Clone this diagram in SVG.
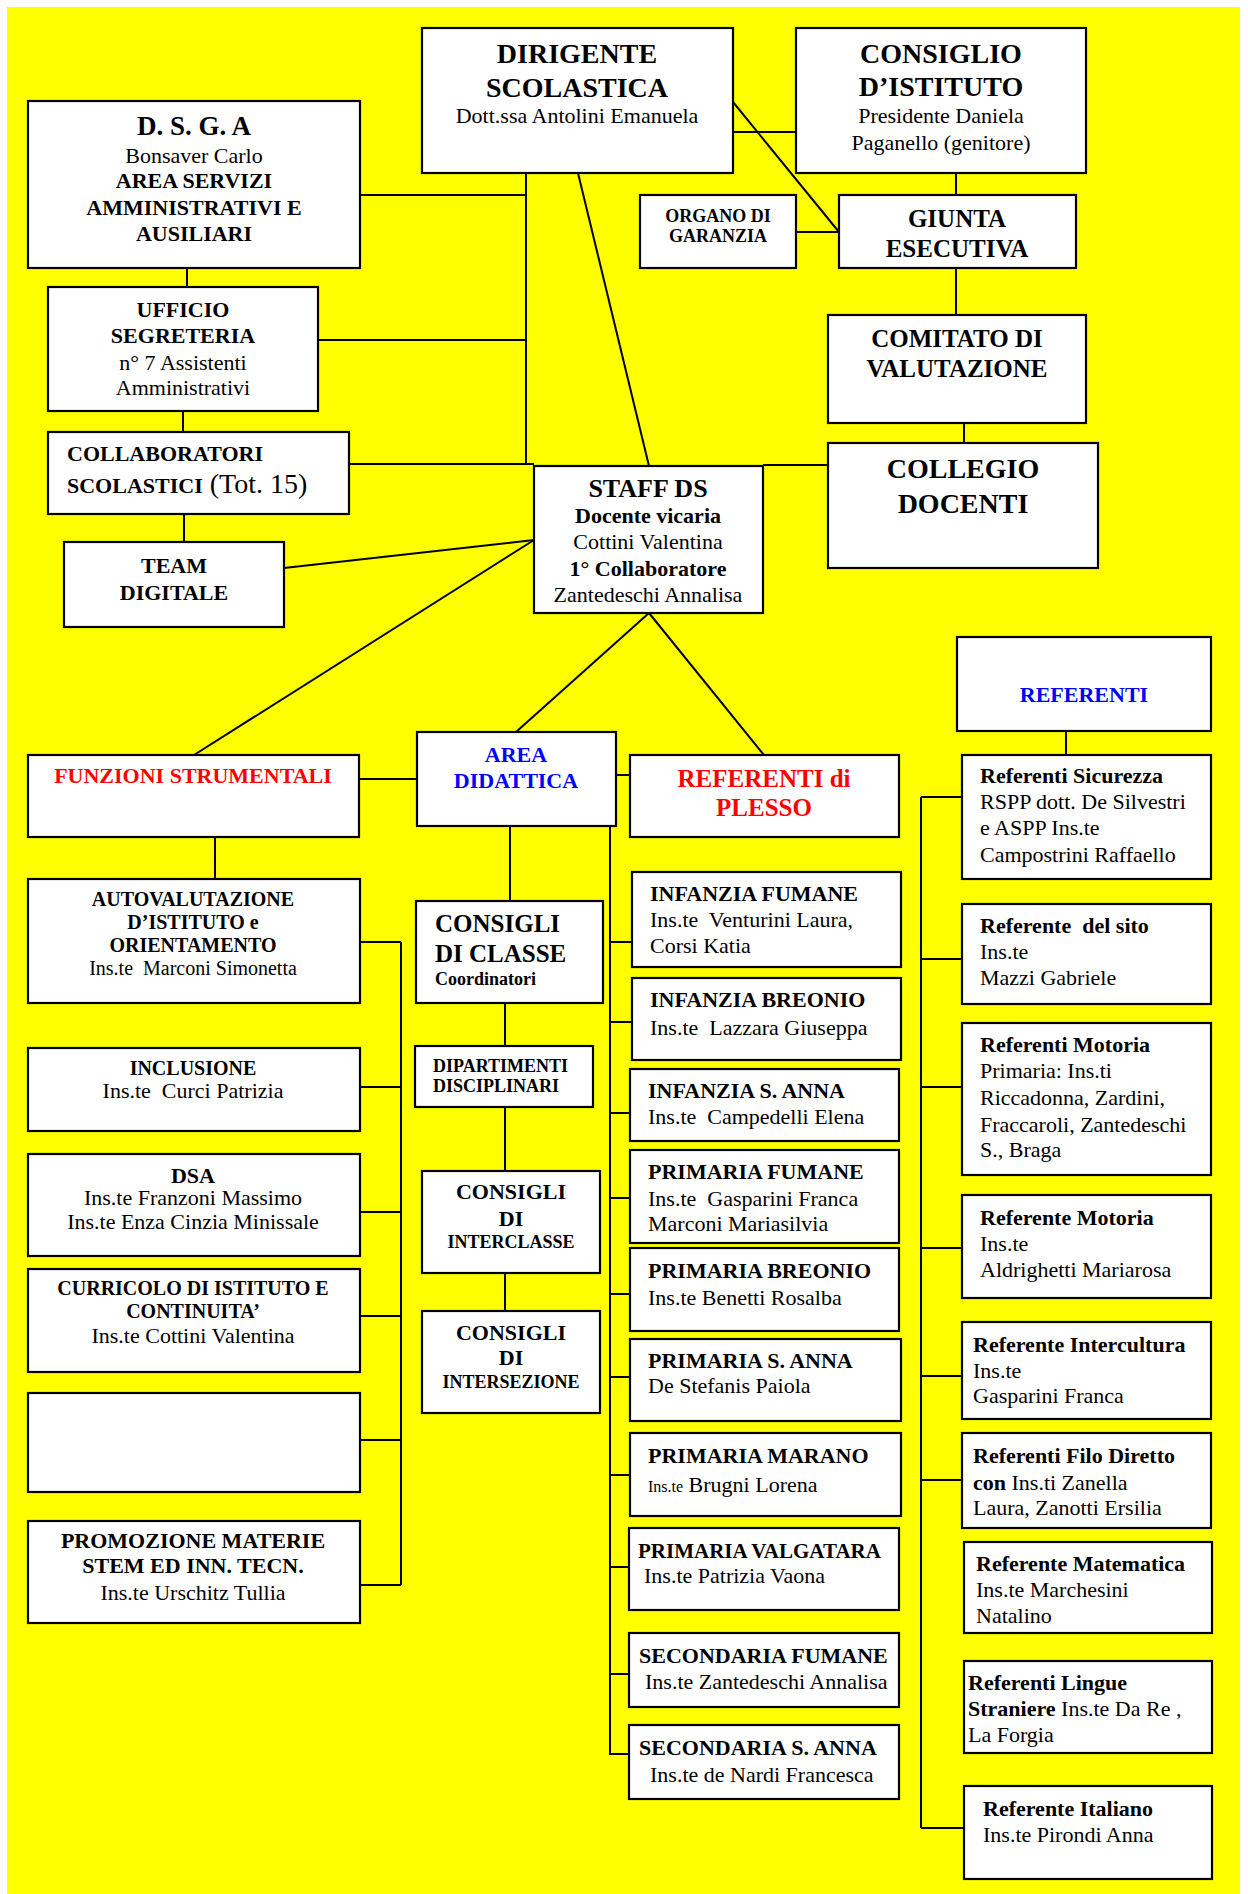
<svg xmlns="http://www.w3.org/2000/svg" width="1248" height="1894" viewBox="0 0 1248 1894">
<style>
.box{fill:#fff;stroke:#000;stroke-width:2.2}
.c{stroke:#000;stroke-width:2;fill:none}
text{font-family:"Liberation Serif","Times New Roman",serif;fill:#000;font-size:22px}
.m{text-anchor:middle}
.b{font-weight:bold}
.s28{font-size:28px}
.s27{font-size:27px}
.s26{font-size:26px}
.s25{font-size:25px}
.s20{font-size:20px}
.s18{font-size:18px}
.s16{font-size:16px}
.red{fill:#ff0000}
.blue{fill:#0000ff}
</style>
<rect x="0" y="0" width="1248" height="1894" fill="#fff"/>
<rect x="7" y="7" width="1233" height="1887" fill="#ffff00"/>

<g id="connectors">
<line class="c" x1="526" y1="173" x2="526" y2="464"/>
<line class="c" x1="360" y1="195" x2="526" y2="195"/>
<line class="c" x1="318" y1="340" x2="526" y2="340"/>
<line class="c" x1="349" y1="464" x2="534" y2="464"/>
<line class="c" x1="763" y1="465" x2="828" y2="465"/>
<line class="c" x1="578" y1="173" x2="649" y2="466"/>
<line class="c" x1="733" y1="132" x2="796" y2="132"/>
<line class="c" x1="733" y1="102" x2="839" y2="232"/>
<line class="c" x1="796" y1="232" x2="839" y2="232"/>
<line class="c" x1="956" y1="173" x2="956" y2="195"/>
<line class="c" x1="956" y1="268" x2="956" y2="315"/>
<line class="c" x1="964" y1="423" x2="964" y2="443"/>
<line class="c" x1="187" y1="268" x2="187" y2="287"/>
<line class="c" x1="183" y1="411" x2="183" y2="432"/>
<line class="c" x1="184" y1="514" x2="184" y2="542"/>
<line class="c" x1="284" y1="568" x2="534" y2="540"/>
<line class="c" x1="534" y1="540" x2="194" y2="755"/>
<line class="c" x1="649" y1="613" x2="516" y2="732"/>
<line class="c" x1="649" y1="613" x2="764" y2="755"/>
<line class="c" x1="359" y1="779" x2="417" y2="779"/>
<line class="c" x1="616" y1="775" x2="630" y2="775"/>
<line class="c" x1="1066" y1="731" x2="1066" y2="755"/>
<line class="c" x1="215" y1="837" x2="215" y2="879"/>
<path class="c" d="M401 942V1585M360 942H401M360 1087H401M360 1212H401M360 1316H401M360 1440H401M360 1585H401"/>
<line class="c" x1="510" y1="826" x2="510" y2="901"/>
<line class="c" x1="505" y1="1003" x2="505" y2="1046"/>
<line class="c" x1="505" y1="1107" x2="505" y2="1171"/>
<line class="c" x1="505" y1="1273" x2="505" y2="1311"/>
<path class="c" d="M610 826V1755M610 942H632M610 1022H632M610 1113H630M610 1198H630M610 1294H630M610 1377H630M610 1475H630M610 1567H629M610 1674H629M610 1754H629"/>
<path class="c" d="M921 797V1828M921 797H962M921 959H962M921 1087H962M921 1248H962M921 1376H962M921 1480H964M921 1828H964"/>
</g>

<g id="dirigente">
<rect class="box" x="422" y="28" width="311" height="145"/>
<text class="m b s28" x="577" y="63">DIRIGENTE</text>
<text class="m b s28" x="577" y="97">SCOLASTICA</text>
<text class="m" x="577" y="123">Dott.ssa Antolini Emanuela</text>
</g>
<g id="consiglio">
<rect class="box" x="796" y="28" width="290" height="145"/>
<text class="m b s28" x="941" y="63">CONSIGLIO</text>
<text class="m b s28" x="941" y="96">D’ISTITUTO</text>
<text class="m" x="941" y="123">Presidente Daniela</text>
<text class="m" x="941" y="150">Paganello (genitore)</text>
</g>
<g id="dsga">
<rect class="box" x="28" y="101" width="332" height="167"/>
<text class="m b s27" x="194" y="135">D. S. G. A</text>
<text class="m" x="194" y="163">Bonsaver Carlo</text>
<text class="m b" x="194" y="188">AREA SERVIZI</text>
<text class="m b" x="194" y="215">AMMINISTRATIVI E</text>
<text class="m b" x="194" y="241">AUSILIARI</text>
</g>
<g id="organo">
<rect class="box" x="640" y="195" width="156" height="73"/>
<text class="m b s18" x="718" y="222">ORGANO DI</text>
<text class="m b s18" x="718" y="242">GARANZIA</text>
</g>
<g id="giunta">
<rect class="box" x="839" y="195" width="237" height="73"/>
<text class="m b s25" x="957" y="227">GIUNTA</text>
<text class="m b s25" x="957" y="257">ESECUTIVA</text>
</g>
<g id="ufficio">
<rect class="box" x="48" y="287" width="270" height="124"/>
<text class="m b" x="183" y="317">UFFICIO</text>
<text class="m b" x="183" y="343">SEGRETERIA</text>
<text class="m" x="183" y="370">n° 7 Assistenti</text>
<text class="m" x="183" y="395">Amministrativi</text>
</g>
<g id="comitato">
<rect class="box" x="828" y="315" width="258" height="108"/>
<text class="m b s25" x="957" y="347">COMITATO DI</text>
<text class="m b s25" x="957" y="377">VALUTAZIONE</text>
</g>
<g id="collaboratori">
<rect class="box" x="48" y="432" width="301" height="82"/>
<text class="b" x="67" y="461">COLLABORATORI</text>
<text x="67" y="493"><tspan class="b">SCOLASTICI</tspan><tspan class="s28"> (Tot. 15)</tspan></text>
</g>
<g id="collegio">
<rect class="box" x="828" y="443" width="270" height="125"/>
<text class="m b s28" x="963" y="478">COLLEGIO</text>
<text class="m b s28" x="963" y="513">DOCENTI</text>
</g>
<g id="staff">
<rect class="box" x="534" y="466" width="229" height="147"/>
<text class="m b s26" x="648" y="497">STAFF DS</text>
<text class="m b" x="648" y="523">Docente vicaria</text>
<text class="m" x="648" y="549">Cottini Valentina</text>
<text class="m b" x="648" y="576">1° Collaboratore</text>
<text class="m" x="648" y="602">Zantedeschi Annalisa</text>
</g>
<g id="team">
<rect class="box" x="64" y="542" width="220" height="85"/>
<text class="m b" x="174" y="573">TEAM</text>
<text class="m b" x="174" y="600">DIGITALE</text>
</g>
<g id="referenti">
<rect class="box" x="957" y="637" width="254" height="94"/>
<text class="m b blue" x="1084" y="702">REFERENTI</text>
</g>
<g id="area-didattica">
<rect class="box" x="417" y="732" width="199" height="94"/>
<text class="m b blue" x="516" y="762">AREA</text>
<text class="m b blue" x="516" y="788">DIDATTICA</text>
</g>
<g id="funzioni">
<rect class="box" x="28" y="755" width="331" height="82"/>
<text class="m b red" x="193" y="783">FUNZIONI STRUMENTALI</text>
</g>
<g id="referenti-plesso">
<rect class="box" x="630" y="755" width="269" height="82"/>
<text class="m b red s25" x="764" y="787">REFERENTI di</text>
<text class="m b red s25" x="764" y="816">PLESSO</text>
</g>
<g id="ref-sicurezza">
<rect class="box" x="962" y="755" width="249" height="124"/>
<text class="b" x="980" y="783">Referenti Sicurezza</text>
<text x="980" y="809">RSPP dott. De Silvestri</text>
<text x="980" y="835">e ASPP Ins.te</text>
<text x="980" y="862">Campostrini Raffaello</text>
</g>
<g id="autovalutazione">
<rect class="box" x="28" y="879" width="332" height="124"/>
<text class="m b s20" x="193" y="906">AUTOVALUTAZIONE</text>
<text class="m b s20" x="193" y="929">D’ISTITUTO e</text>
<text class="m b s20" x="193" y="952">ORIENTAMENTO</text>
<text class="m s20" x="193" y="975" xml:space="preserve">Ins.te  Marconi Simonetta</text>
</g>
<g id="consigli-classe">
<rect class="box" x="416" y="901" width="187" height="102"/>
<text class="b s25" x="435" y="932">CONSIGLI</text>
<text class="b s25" x="435" y="962">DI CLASSE</text>
<text class="b s18" x="435" y="985">Coordinatori</text>
</g>
<g id="infanzia-fumane">
<rect class="box" x="632" y="872" width="269" height="95"/>
<text class="b" x="650" y="901">INFANZIA FUMANE</text>
<text x="650" y="927" xml:space="preserve">Ins.te  Venturini Laura,</text>
<text x="650" y="953">Corsi Katia</text>
</g>
<g id="ref-sito">
<rect class="box" x="962" y="904" width="249" height="100"/>
<text class="b" x="980" y="933" xml:space="preserve">Referente  del sito</text>
<text x="980" y="959">Ins.te</text>
<text x="980" y="985">Mazzi Gabriele</text>
</g>
<g id="infanzia-breonio">
<rect class="box" x="632" y="978" width="269" height="82"/>
<text class="b" x="650" y="1007">INFANZIA BREONIO</text>
<text x="650" y="1035" xml:space="preserve">Ins.te  Lazzara Giuseppa</text>
</g>
<g id="ref-motoria">
<rect class="box" x="962" y="1023" width="249" height="152"/>
<text class="b" x="980" y="1052">Referenti Motoria</text>
<text x="980" y="1078">Primaria: Ins.ti</text>
<text x="980" y="1105">Riccadonna, Zardini,</text>
<text x="980" y="1132">Fraccaroli, Zantedeschi</text>
<text x="980" y="1157">S., Braga</text>
</g>
<g id="inclusione">
<rect class="box" x="28" y="1048" width="332" height="83"/>
<text class="m b s20" x="193" y="1075">INCLUSIONE</text>
<text class="m" x="193" y="1098" xml:space="preserve">Ins.te  Curci Patrizia</text>
</g>
<g id="dipartimenti">
<rect class="box" x="415" y="1046" width="178" height="61"/>
<text class="b s18" x="433" y="1072">DIPARTIMENTI</text>
<text class="b s18" x="433" y="1092">DISCIPLINARI</text>
</g>
<g id="infanzia-santanna">
<rect class="box" x="630" y="1069" width="269" height="72"/>
<text class="b" x="648" y="1098">INFANZIA S. ANNA</text>
<text x="648" y="1124" xml:space="preserve">Ins.te  Campedelli Elena</text>
</g>
<g id="primaria-fumane">
<rect class="box" x="630" y="1150" width="269" height="93"/>
<text class="b" x="648" y="1179">PRIMARIA FUMANE</text>
<text x="648" y="1206" xml:space="preserve">Ins.te  Gasparini Franca</text>
<text x="648" y="1231">Marconi Mariasilvia</text>
</g>
<g id="dsa">
<rect class="box" x="28" y="1154" width="332" height="102"/>
<text class="m b" x="193" y="1183">DSA</text>
<text class="m" x="193" y="1205">Ins.te Franzoni Massimo</text>
<text class="m" x="193" y="1229">Ins.te Enza Cinzia Minissale</text>
</g>
<g id="consigli-interclasse">
<rect class="box" x="422" y="1171" width="178" height="102"/>
<text class="m b" x="511" y="1199">CONSIGLI</text>
<text class="m b" x="511" y="1226">DI</text>
<text class="m b s18" x="511" y="1248">INTERCLASSE</text>
</g>
<g id="ref-motoria-2">
<rect class="box" x="962" y="1195" width="249" height="103"/>
<text class="b" x="980" y="1225">Referente Motoria</text>
<text x="980" y="1251">Ins.te</text>
<text x="980" y="1277">Aldrighetti Mariarosa</text>
</g>
<g id="primaria-breonio">
<rect class="box" x="630" y="1248" width="269" height="83"/>
<text class="b" x="648" y="1278">PRIMARIA BREONIO</text>
<text x="648" y="1305">Ins.te Benetti Rosalba</text>
</g>
<g id="curricolo">
<rect class="box" x="28" y="1269" width="332" height="103"/>
<text class="m b s20" x="193" y="1295">CURRICOLO DI ISTITUTO E</text>
<text class="m b s20" x="193" y="1318">CONTINUITA’</text>
<text class="m" x="193" y="1343">Ins.te Cottini Valentina</text>
</g>
<g id="consigli-intersezione">
<rect class="box" x="422" y="1311" width="178" height="102"/>
<text class="m b" x="511" y="1340">CONSIGLI</text>
<text class="m b" x="511" y="1365">DI</text>
<text class="m b s18" x="511" y="1388">INTERSEZIONE</text>
</g>
<g id="ref-intercultura">
<rect class="box" x="962" y="1322" width="249" height="97"/>
<text class="b" x="973" y="1352">Referente Intercultura</text>
<text x="973" y="1378">Ins.te</text>
<text x="973" y="1403">Gasparini Franca</text>
</g>
<g id="primaria-santanna">
<rect class="box" x="630" y="1339" width="271" height="82"/>
<text class="b" x="648" y="1368">PRIMARIA S. ANNA</text>
<text x="648" y="1393">De Stefanis Paiola</text>
</g>
<g id="fs-vuota">
<rect class="box" x="28" y="1393" width="332" height="99"/>
</g>
<g id="primaria-marano">
<rect class="box" x="630" y="1433" width="271" height="83"/>
<text class="b" x="648" y="1463">PRIMARIA MARANO</text>
<text x="648" y="1492"><tspan class="s16">Ins.te</tspan> Brugni Lorena</text>
</g>
<g id="ref-filo-diretto">
<rect class="box" x="962" y="1433" width="249" height="95"/>
<text class="b" x="973" y="1463">Referenti Filo Diretto</text>
<text x="973" y="1490"><tspan class="b">con</tspan> Ins.ti Zanella</text>
<text x="973" y="1515">Laura, Zanotti Ersilia</text>
</g>
<g id="promozione-stem">
<rect class="box" x="28" y="1521" width="332" height="102"/>
<text class="m b" x="193" y="1548">PROMOZIONE MATERIE</text>
<text class="m b" x="193" y="1573">STEM ED INN. TECN.</text>
<text class="m" x="193" y="1600">Ins.te Urschitz Tullia</text>
</g>
<g id="primaria-valgatara">
<rect class="box" x="629" y="1528" width="270" height="82"/>
<text class="b" x="638" y="1558" style="font-size:21px">PRIMARIA VALGATARA</text>
<text x="644" y="1583">Ins.te Patrizia Vaona</text>
</g>
<g id="ref-matematica">
<rect class="box" x="964" y="1542" width="248" height="91"/>
<text class="b" x="976" y="1571">Referente Matematica</text>
<text x="976" y="1597">Ins.te Marchesini</text>
<text x="976" y="1623">Natalino</text>
</g>
<g id="secondaria-fumane">
<rect class="box" x="629" y="1633" width="270" height="74"/>
<text class="b" x="639" y="1663">SECONDARIA FUMANE</text>
<text x="645" y="1689">Ins.te Zantedeschi Annalisa</text>
</g>
<g id="ref-lingue">
<rect class="box" x="964" y="1661" width="248" height="92"/>
<text class="b" x="968" y="1690">Referenti Lingue</text>
<text x="968" y="1716"><tspan class="b">Straniere</tspan> Ins.te Da Re ,</text>
<text x="968" y="1742">La Forgia</text>
</g>
<g id="secondaria-santanna">
<rect class="box" x="629" y="1725" width="270" height="74"/>
<text class="b" x="639" y="1755">SECONDARIA S. ANNA</text>
<text x="650" y="1782">Ins.te de Nardi Francesca</text>
</g>
<g id="ref-italiano">
<rect class="box" x="964" y="1786" width="248" height="93"/>
<text class="b" x="983" y="1816">Referente Italiano</text>
<text x="983" y="1842">Ins.te Pirondi Anna</text>
</g>
</svg>
